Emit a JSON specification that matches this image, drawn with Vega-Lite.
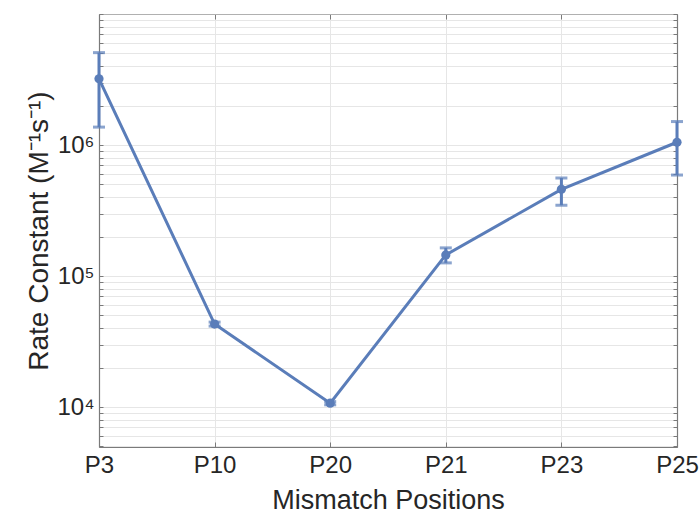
{
  "$schema": "https://vega.github.io/schema/vega-lite/v6.json",
  "autosize": "none",
  "width": 578,
  "height": 433,
  "padding": {"left": 99, "top": 14, "right": 23, "bottom": 71},
  "background": "white",
  "config": {
    "font": "Liberation Sans",
    "view": {"stroke": null},
    "axis": {
      "labelFont": "Liberation Sans",
      "titleFont": "Liberation Sans",
      "labelColor": "#262626",
      "titleColor": "#262626",
      "titleFontWeight": "normal",
      "domainColor": "#7a7a7a",
      "tickColor": "#7a7a7a",
      "gridColor": "#e6e6e6",
      "gridWidth": 1
    }
  },
  "data": {
    "values": [
      {"pos": "P3", "k": 3200000, "lo": 1370000, "hi": 5070000},
      {"pos": "P10", "k": 43000, "lo": 41500, "hi": 44500},
      {"pos": "P20", "k": 10700, "lo": 10400, "hi": 11000},
      {"pos": "P21", "k": 145000, "lo": 126000, "hi": 164000},
      {"pos": "P23", "k": 459000, "lo": 347000, "hi": 560000},
      {"pos": "P25", "k": 1050000, "lo": 590000, "hi": 1510000}
    ]
  },
  "layer": [
    {
      "layer": [
        {
          "mark": {"type": "line", "color": "#5a7db9", "strokeWidth": 3},
          "encoding": {
            "x": {"field": "pos", "type": "ordinal", "sort": null},
            "y": {"field": "k", "type": "quantitative"}
          }
        },
        {
          "mark": {"type": "errorbar", "color": "#5a7db9", "thickness": 3, "ticks": {"size": 12, "thickness": 3, "color": "#5a7db9"}},
          "encoding": {
            "x": {"field": "pos", "type": "ordinal", "sort": null},
            "y": {"field": "lo", "type": "quantitative"},
            "y2": {"field": "hi"}
          }
        },
        {
          "mark": {"type": "point", "filled": true, "color": "#5a7db9", "opacity": 1, "size": 85},
          "encoding": {
            "x": {"field": "pos", "type": "ordinal", "sort": null},
            "y": {"field": "k", "type": "quantitative"}
          }
        }
      ],
      "encoding": {
        "x": {
          "field": "pos",
          "type": "ordinal",
          "sort": null,
          "scale": {"type": "point", "padding": 0, "domain": ["P3", "P10", "P20", "P21", "P23", "P25"]},
          "axis": {
            "title": "Mismatch Positions",
            "titleFontSize": 27,
            "titlePadding": 10,
            "labelFontSize": 24,
            "labelAngle": 0,
            "labelPadding": 11,
            "tickSize": -5,
            "grid": true,
            "domainWidth": 1.2
          }
        },
        "y": {
          "field": "k",
          "type": "quantitative",
          "scale": {"type": "log", "domain": [4955, 10000000], "nice": false, "clamp": false},
          "axis": {
            "title": "Rate Constant (M⁻¹s⁻¹)",
            "titleFontSize": 28,
            "titlePadding": 3,
            "labelFontSize": 24,
            "labelPadding": 9,
            "grid": true,
            "domainWidth": 1.2,
            "values": [5000, 6000, 7000, 8000, 9000, 10000, 20000, 30000, 40000, 50000, 60000, 70000, 80000, 90000, 100000, 200000, 300000, 400000, 500000, 600000, 700000, 800000, 900000, 1000000, 2000000, 3000000, 4000000, 5000000, 6000000, 7000000, 8000000, 9000000, 10000000],
            "labelExpr": "datum.value == 10000 ? '10⁴' : datum.value == 100000 ? '10⁵' : datum.value == 1000000 ? '10⁶' : ''",
            "tickSize": -4
          }
        }
      }
    },
    {
      "mark": {"type": "point", "opacity": 0},
      "encoding": {
        "x": {
          "field": "pos",
          "type": "ordinal",
          "sort": null,
          "scale": {"type": "point", "padding": 0, "domain": ["P3", "P10", "P20", "P21", "P23", "P25"]},
          "axis": {"orient": "top", "title": null, "labels": false, "tickSize": -5, "grid": false, "domainColor": "#b0b0b0", "domainWidth": 1.2}
        },
        "y": {
          "field": "k",
          "type": "quantitative",
          "scale": {"type": "log", "domain": [4955, 10000000], "nice": false},
          "axis": {
            "orient": "right",
            "title": null,
            "labels": false,
            "grid": false,
            "tickSize": -4,
            "domainWidth": 1.2,
            "values": [5000, 6000, 7000, 8000, 9000, 10000, 20000, 30000, 40000, 50000, 60000, 70000, 80000, 90000, 100000, 200000, 300000, 400000, 500000, 600000, 700000, 800000, 900000, 1000000, 2000000, 3000000, 4000000, 5000000, 6000000, 7000000, 8000000, 9000000, 10000000]
          }
        }
      }
    }
  ],
  "resolve": {"scale": {"x": "independent", "y": "independent"}, "axis": {"x": "independent", "y": "independent"}}
}
